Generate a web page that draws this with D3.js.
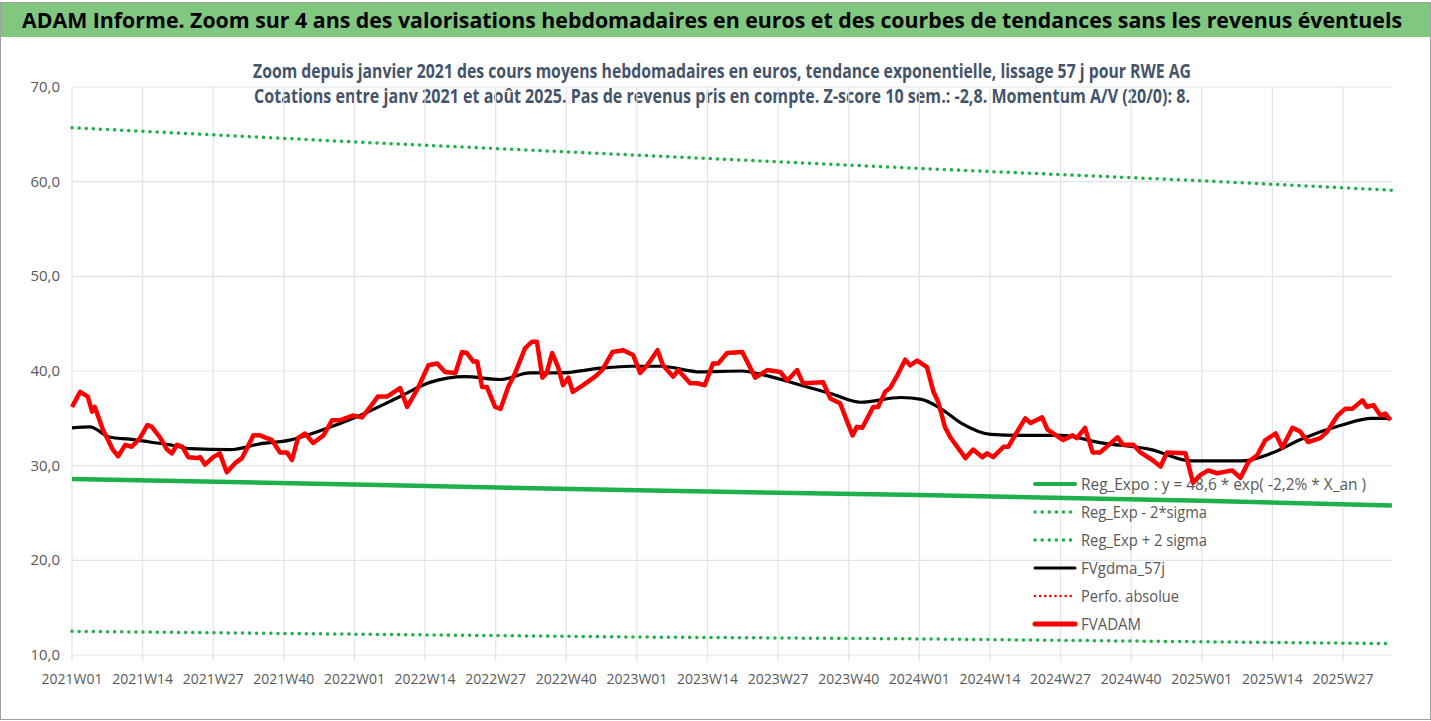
<!DOCTYPE html>
<html>
<head>
<meta charset="utf-8">
<script src="https://cdn.jsdelivr.net/npm/d3@7"></script>
<style>
  body { margin: 0; background: #fff; }
  text { font-family: "Liberation Sans Narrow", "Open Sans", sans-serif; }
</style>
</head>
<body>
<div id="chart"></div>
<script>
// weekly index since 2021W01
const redWeeks = [0,1.5,2.9,3.7,4.2,5.7,7.5,8.5,9.8,11,12.5,13.9,14.7,16.2,17.5,18.4,19.3,20.3,21.4,23,23.6,24.5,26,27.2,28.5,30.1,31.3,33.4,34.6,36.8,38.3,39.6,40.5,41.6,42.9,44.4,46.3,47.9,49.4,51.7,53.4,54.9,56.3,58,60.4,61.7,63.7,65.6,67.2,68.7,70.6,71.8,72.7,73.9,74.6,75.5,76.4,77.9,78.9,80.3,81.6,83.4,84.7,85.6,86.6,87.4,88.4,89.5,90.4,91.4,92.2,94.1,96.3,97.6,99.5,101.5,103.3,104.6,105.9,107.8,108.8,110.7,111.6,113.8,115.1,116.5,118,119,120.6,123.4,125.8,128,130.4,131.7,133.5,134.6,138.3,139.6,141.4,143.7,144.5,145.5,147.5,148.4,149.7,150.6,152,153.4,154.3,155.6,157.4,158.6,159.5,160.7,161.7,164.5,165.9,167.6,168.5,169.6,171.5,172.4,173.6,175.5,176.5,178.6,179.6,182.5,184.2,185,186.5,187.9,189.3,192.5,193.5,195.4,196.7,198.9,200.4,201.6,205,206.4,207.7,209.2,210.8,213.6,215.1,216.6,218.2,219.7,221.6,222.8,224.7,226.1,227.6,229.8,231.1,233,234.4,235.7,237.6,238.4,239.6,240.9,241.8,242.7];
const redValues = [36.2,37.8,37.3,35.7,36.2,33.8,31.7,31.0,32.2,32.0,32.9,34.3,34.1,33.0,31.7,31.3,32.2,32.0,30.9,30.8,30.9,30.1,30.9,31.3,29.3,30.3,30.8,33.2,33.2,32.7,31.4,31.4,30.6,32.9,33.4,32.4,33.2,34.8,34.8,35.3,35.1,36.2,37.3,37.3,38.2,36.2,38.2,40.6,40.8,39.9,39.8,42.0,41.9,41.0,41.0,38.3,38.3,36.2,36.0,38.3,39.8,42.4,43.1,43.1,39.3,39.8,41.9,40.4,38.5,39.3,37.8,38.5,39.4,40.1,42.0,42.2,41.7,39.8,40.6,42.2,40.6,39.4,40.1,38.7,38.7,38.5,40.8,40.8,41.9,42.0,39.3,40.1,39.9,39.0,40.1,38.7,38.8,37.1,36.6,33.2,34.1,34.0,36.2,36.2,37.8,38.2,39.6,41.2,40.6,41.1,40.4,37.8,36.7,34.1,33.0,30.8,31.7,30.9,31.3,30.9,32.0,32.0,33.2,35.0,34.5,35.1,33.8,32.7,33.2,32.9,34.0,31.4,31.4,33.0,32.2,32.2,31.4,30.6,29.9,31.4,31.3,28.2,29.0,29.5,29.2,29.5,28.7,30.4,31.1,32.7,33.4,31.9,34.0,33.6,32.5,32.9,33.6,35.3,36.0,36.0,36.9,36.2,36.4,35.3,35.5,34.8];

const blackWeeks = [0,3.3,7,10.6,14.3,18.1,21.8,29.1,34.6,40.1,45.7,53,60.4,65.9,72.4,78.9,84.3,89.9,97.3,102.9,108.3,115.8,123.2,128.6,134.2,139.8,145.2,152.6,156.4,160,163.7,169.2,174.7,182.1,189.5,198.7,206,215.3,220.8,226.3,233.8,239.2,242.9];
const blackValues = [34.0,34.1,33.0,32.8,32.5,32.2,31.8,31.7,32.3,32.7,33.7,35.3,37.3,38.8,39.4,39.1,39.8,39.8,40.3,40.5,40.5,39.9,40.0,39.4,38.5,37.6,36.7,37.2,37.0,36.0,34.5,33.3,33.2,33.2,32.4,31.7,30.5,30.5,31.3,32.8,34.3,35.0,35.0];

const trendWeeks = [0,52,104,156,208,243];
const regExpo = [28.6,28.0,27.4,26.9,26.3,25.8];
const regUpper = [65.7,64.2,62.8,61.4,60.1,59.1];
const regLower = [12.5,12.2,11.9,11.7,11.4,11.2];

const tickWeeks = [0,13,26,39,52,65,78,91,104,117,130,143,156,169,182,195,208,221,234];
const tickLabels = ["2021W01","2021W14","2021W27","2021W40","2022W01","2022W14","2022W27","2022W40","2023W01","2023W14","2023W27","2023W40","2024W01","2024W14","2024W27","2024W40","2025W01","2025W14","2025W27"];
const yTicks = [10,20,30,40,50,60,70];

const legendItems = [
  { label: "Reg_Expo : y = 48,6 * exp( -2,2% *  X_an )", color: "#1db04b", dash: null, w: 4, len: 285 },
  { label: "Reg_Exp - 2*sigma", color: "#1db04b", dash: "0.1 7", w: 3.5, len: 126 },
  { label: "Reg_Exp + 2 sigma", color: "#1db04b", dash: "0.1 7", w: 3.5, len: 126 },
  { label: "FVgdma_57j", color: "#000", dash: null, w: 3, len: 84 },
  { label: "Perfo. absolue", color: "#e00", dash: "0.1 5", w: 2.5, len: 98 },
  { label: "FVADAM", color: "#f00", dash: null, w: 5, len: 60 }
];

const W = 1431, H = 721;
const svg = d3.select("#chart").append("svg").attr("width", W).attr("height", H);

// frame and title bar
svg.append("rect").attr("x", 0.5).attr("y", 2.5).attr("width", W - 1).attr("height", H - 4)
  .attr("fill", "#fff").attr("stroke", "#a0a0a0");
svg.append("rect").attr("x", 1).attr("y", 3).attr("width", W - 2).attr("height", 34).attr("fill", "#80c780");
svg.append("text").attr("x", 22).attr("y", 28).attr("font-size", 22).attr("font-weight", "bold")
  .attr("fill", "#000").attr("textLength", 1380).attr("lengthAdjust", "spacingAndGlyphs")
  .text("ADAM Informe. Zoom sur 4 ans des valorisations hebdomadaires en euros et des courbes de tendances sans les revenus éventuels");

const subs = [
  { t: "Zoom depuis janvier 2021 des cours moyens hebdomadaires en euros, tendance exponentielle, lissage 57 j pour RWE AG", len: 938 },
  { t: "Cotations entre janv 2021 et août 2025.  Pas de revenus pris en compte. Z-score 10 sem.: -2,8. Momentum A/V (20/0): 8.", len: 936 }
];
svg.append("g").attr("font-weight", "bold").attr("font-size", 19).attr("fill", "#44546a")
  .attr("text-anchor", "middle").selectAll("text").data(subs)
  .join("text").attr("x", 722).attr("y", (d, i) => 78 + i * 25)
  .attr("textLength", d => d.len).attr("lengthAdjust", "spacingAndGlyphs").text(d => d.t);

const x = d3.scaleLinear().domain([0, 234]).range([72, 1343]);
const y = d3.scaleLinear().domain([10, 70]).range([655, 87]);

// gridlines
svg.append("g").selectAll("line").data(yTicks).join("line")
  .attr("x1", 72).attr("x2", 1392).attr("y1", d => y(d)).attr("y2", d => y(d))
  .attr("stroke", "#dfe3ea").attr("stroke-width", 1.2);
svg.append("g").selectAll("line").data(tickWeeks).join("line")
  .attr("x1", d => x(d)).attr("x2", d => x(d)).attr("y1", y(70)).attr("y2", y(10) + 6)
  .attr("stroke", "#dfe3ea").attr("stroke-width", 1.2);

// axes labels
svg.append("g").attr("font-size", 15).attr("fill", "#595959").attr("text-anchor", "end")
  .selectAll("text").data(yTicks).join("text")
  .attr("x", 60).attr("y", d => y(d) + 5).text(d => d3.format(".1f")(d).replace(".", ","));
svg.append("g").attr("font-size", 14).attr("fill", "#595959").attr("text-anchor", "middle")
  .selectAll("text").data(tickWeeks).join("text")
  .attr("x", d => x(d)).attr("y", 684).text((d, i) => tickLabels[i]);

const line = (xs, ys, curve) => d3.line().curve(curve || d3.curveLinear)
  .x((d, i) => x(xs[i])).y(d => y(d))(ys);

svg.append("path").attr("d", line(trendWeeks, regUpper)).attr("fill", "none")
  .attr("stroke", "#1db04b").attr("stroke-width", 3.5).attr("stroke-dasharray", "0.1 7").attr("stroke-linecap", "round");
svg.append("path").attr("d", line(trendWeeks, regLower)).attr("fill", "none")
  .attr("stroke", "#1db04b").attr("stroke-width", 3.5).attr("stroke-dasharray", "0.1 7").attr("stroke-linecap", "round");
svg.append("path").attr("d", line(trendWeeks, regExpo)).attr("fill", "none")
  .attr("stroke", "#1db04b").attr("stroke-width", 4.5);
svg.append("path").attr("d", line(blackWeeks, blackValues, d3.curveMonotoneX)).attr("fill", "none")
  .attr("stroke", "#000").attr("stroke-width", 3.2);

// legend (drawn under the price line, as in the source)
const lg = svg.append("g").selectAll("g").data(legendItems).join("g")
  .attr("transform", (d, i) => `translate(1035, ${484 + i * 28})`);
lg.append("line").attr("x1", 0).attr("x2", 40)
  .attr("stroke", d => d.color).attr("stroke-width", d => d.w)
  .attr("stroke-dasharray", d => d.dash).attr("stroke-linecap", "round");
lg.append("text").attr("x", 46).attr("y", 6).attr("font-size", 17).attr("fill", "#595959")
  .attr("textLength", d => d.len).attr("lengthAdjust", "spacingAndGlyphs").text(d => d.label);

svg.append("path").attr("d", line(redWeeks, redValues)).attr("fill", "none")
  .attr("stroke", "#f00").attr("stroke-width", 4.5).attr("stroke-linejoin", "round");
</script>
</body>
</html>
